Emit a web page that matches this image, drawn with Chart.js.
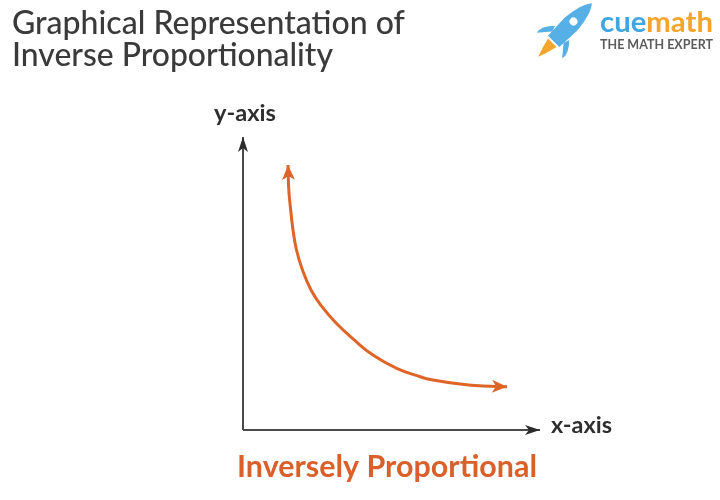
<!DOCTYPE html>
<html>
<head>
<meta charset="utf-8">
<script src="https://cdn.jsdelivr.net/npm/chart.js@4.4.0/dist/chart.umd.min.js"></script>
<style>
  html, body { margin: 0; padding: 0; background: #ffffff; }
  #wrap { width: 720px; height: 500px; }
</style>
</head>
<body>
<div id="wrap"><canvas id="c" width="720" height="500"></canvas></div>
<script>
// ---- data (in axis units 0..10) ----
const curveX = [1.515, 1.542, 1.606, 1.684, 1.801, 2.003, 2.290, 2.660, 3.141, 3.747, 4.374, 5.175, 5.960, 6.397, 7.306, 8.081, 8.889];
const curveY = [9.044, 8.191, 7.509, 6.826, 6.143, 5.461, 4.778, 4.208, 3.642, 3.072, 2.560, 2.106, 1.819, 1.706, 1.570, 1.502, 1.478];
const axisMin = 0;
const axisMax = 10;
const titleLines = ["Graphical Representation of", "Inverse Proportionality"];
const yAxisLabel = "y-axis";
const xAxisLabel = "x-axis";
const captionText = "Inversely Proportional";
const brandParts = ["cue", "math"];
const brandTagline = "THE MATH EXPERT";

// ---- styles ----
const ORANGE = "#df6428";
const AXIS_COLOR = "#4a4a4a";
const ARROW_DARK = "#2b2b2b";

function fitFont(ctx, text, weight, family, targetWidth) {
  ctx.font = weight + " 100px " + family;
  const w = ctx.measureText(text).width;
  const size = 100 * targetWidth / w;
  ctx.font = weight + " " + size.toFixed(2) + "px " + family;
  return size;
}

function drawArrowHead(ctx, tipX, tipY, angle, len, half, notch, color) {
  ctx.save();
  ctx.translate(tipX, tipY);
  ctx.rotate(angle);
  ctx.beginPath();
  ctx.moveTo(0, 0);
  ctx.lineTo(-len, -half);
  ctx.lineTo(-len + notch, 0);
  ctx.lineTo(-len, half);
  ctx.closePath();
  ctx.fillStyle = color;
  ctx.fill();
  ctx.restore();
}

const decorPlugin = {
  id: "decor",
  afterDatasetsDraw(chart) {
    const ctx = chart.ctx;
    chart.data.datasets.forEach((ds, i) => {
      const meta = chart.getDatasetMeta(i);
      const pts = meta.data;
      if (!ds.arrow || pts.length < 2) return;
      const a = ds.arrow;
      if (a.end) {
        const p = pts[pts.length - 1], q = pts[pts.length - 2];
        drawArrowHead(ctx, p.x, p.y, Math.atan2(p.y - q.y, p.x - q.x), a.len, a.half, a.notch, a.color);
      }
      if (a.start) {
        const p = pts[0], q = pts[1];
        drawArrowHead(ctx, p.x, p.y, Math.atan2(p.y - q.y, p.x - q.x), a.len, a.half, a.notch, a.color);
      }
    });
  },
  afterDraw(chart) {
    const ctx = chart.ctx;
    const xs = chart.scales.x, ys = chart.scales.y;
    ctx.save();
    ctx.textBaseline = "alphabetic";
    ctx.textAlign = "left";

    // Title
    ctx.fillStyle = "#3a3a3a";
    fitFont(ctx, titleLines[0], "500", "Lato", 393);
    ctx.fillText(titleLines[0], 12, 34);
    fitFont(ctx, titleLines[1], "500", "Lato", 321);
    ctx.fillText(titleLines[1], 12, 66);

    // Axis labels, positioned from the scales
    ctx.fillStyle = "#2e2e2e";
    fitFont(ctx, yAxisLabel, "700", "Lato", 62);
    ctx.textAlign = "center";
    ctx.fillText(yAxisLabel, xs.getPixelForValue(axisMin) + 2, ys.getPixelForValue(axisMax) - 16);
    ctx.textAlign = "left";
    fitFont(ctx, xAxisLabel, "700", "Lato", 61);
    ctx.fillText(xAxisLabel, xs.getPixelForValue(axisMax) + 11, ys.getPixelForValue(axisMin) + 3);

    // Caption
    ctx.fillStyle = "#d9602a";
    fitFont(ctx, captionText, "700", "Lato", 300);
    ctx.textAlign = "center";
    ctx.fillText(captionText, 387, 477);

    // Brand logo: rocket
    ctx.save();
    ctx.translate(565, 30);
    ctx.rotate(-Math.PI / 4);
    ctx.fillStyle = "#f3a62b";
    ctx.beginPath();
    ctx.moveTo(-18, -6);
    ctx.quadraticCurveTo(-30, -3, -38, 0);
    ctx.quadraticCurveTo(-30, 3, -18, 6);
    ctx.closePath();
    ctx.fill();
    ctx.fillStyle = "#56b0e6";
    ctx.beginPath();
    ctx.moveTo(-10, -8);
    ctx.lineTo(-22, -18);
    ctx.quadraticCurveTo(-14, -20, -4, -10);
    ctx.closePath();
    ctx.fill();
    ctx.beginPath();
    ctx.moveTo(-10, 8);
    ctx.lineTo(-22, 18);
    ctx.quadraticCurveTo(-14, 20, -4, 10);
    ctx.closePath();
    ctx.fill();
    ctx.beginPath();
    ctx.moveTo(-16, -8);
    ctx.lineTo(8, -9);
    ctx.quadraticCurveTo(30, -7, 38, 0);
    ctx.quadraticCurveTo(30, 7, 8, 9);
    ctx.lineTo(-16, 8);
    ctx.closePath();
    ctx.fill();
    ctx.fillStyle = "#ffffff";
    ctx.beginPath();
    ctx.arc(12, 0, 4, 0, Math.PI * 2);
    ctx.fill();
    ctx.restore();

    // Brand text
    ctx.textAlign = "left";
    fitFont(ctx, brandParts.join(""), "700", "Lato", 113);
    ctx.fillStyle = "#3fa6e0";
    ctx.fillText(brandParts[0], 600, 32);
    const w0 = ctx.measureText(brandParts[0]).width;
    ctx.fillStyle = "#f4a52a";
    ctx.fillText(brandParts[1], 600 + w0, 32);
    ctx.fillStyle = "#5b5b5b";
    fitFont(ctx, brandTagline, "700", "Lato", 113);
    ctx.fillText(brandTagline, 600, 49);

    ctx.restore();
  }
};

const ctx = document.getElementById("c").getContext("2d");
new Chart(ctx, {
  type: "line",
  data: {
    datasets: [
      {
        label: "x-axis line",
        data: [{ x: axisMin, y: axisMin }, { x: axisMax, y: axisMin }],
        borderColor: AXIS_COLOR,
        borderWidth: 2,
        pointRadius: 0,
        clip: false,
        arrow: { end: true, len: 15, half: 5, notch: 4, color: ARROW_DARK }
      },
      {
        label: "y-axis line",
        data: [{ x: axisMin, y: axisMin }, { x: axisMin, y: axisMax }],
        borderColor: AXIS_COLOR,
        borderWidth: 2,
        pointRadius: 0,
        clip: false,
        arrow: { end: true, len: 15, half: 5, notch: 4, color: ARROW_DARK }
      },
      {
        label: "y = k / x",
        data: curveX.map((x, i) => ({ x: x, y: curveY[i] })),
        borderColor: ORANGE,
        borderWidth: 3,
        pointRadius: 0,
        tension: 0.45,
        clip: false,
        arrow: { start: true, end: true, len: 15, half: 6.5, notch: 4, color: ORANGE }
      }
    ]
  },
  options: {
    responsive: false,
    devicePixelRatio: 1,
    animation: false,
    layout: { padding: { left: 243, right: 180, top: 137, bottom: 70 } },
    plugins: { legend: { display: false }, tooltip: { enabled: false }, title: { display: false } },
    scales: {
      x: { type: "linear", min: axisMin, max: axisMax, display: false },
      y: { type: "linear", min: axisMin, max: axisMax, display: false }
    }
  },
  plugins: [decorPlugin]
});
</script>
</body>
</html>
